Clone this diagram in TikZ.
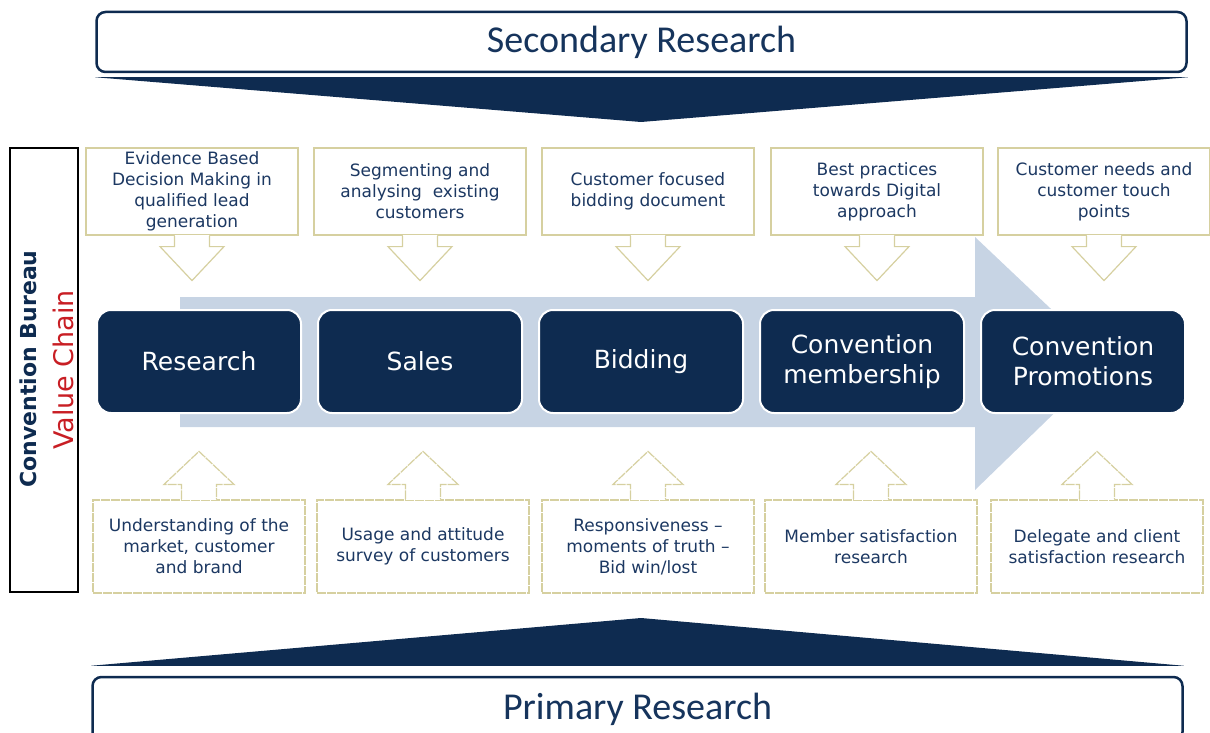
\documentclass[tikz,border=0pt]{standalone}
\usepackage{fontspec}
\setmainfont{DejaVu Sans}
\newfontfamily\bannerfont{Carlito}
\definecolor{navy}{RGB}{14,43,80}
\definecolor{bannertext}{RGB}{22,52,92}
\definecolor{boxtext}{RGB}{28,56,98}
\definecolor{boxline}{RGB}{214,208,160}
\definecolor{flow}{RGB}{199,212,228}
\definecolor{vcred}{RGB}{200,30,36}
\begin{document}
\begin{tikzpicture}[x=1pt,y=-1pt,
  banner/.style={draw=navy,line width=2.5pt,rounded corners=9pt,fill=white,minimum width=1090pt,minimum height=60pt,text=bannertext,font=\bannerfont\fontsize{38}{42}\selectfont},
  stage/.style={fill=navy,draw=white,line width=2pt,rounded corners=14pt,minimum width=204pt,minimum height=103pt,text=white,align=center,font=\fontsize{25}{30}\selectfont},
  inbox/.style={draw=boxline,line width=1.2pt,fill=white,minimum width=212pt,minimum height=87pt,inner sep=1pt,align=center,text=boxtext,font=\fontsize{17}{21}\selectfont},
  outbox/.style={inbox,minimum height=93pt,dash pattern=on 9pt off 1pt},
  blockarrow/.style={draw=boxline,line width=1.2pt,fill=white,line join=miter}]
\useasboundingbox (0,0) rectangle (1210,733);
% research banners
\node[banner] (sec) at (641.5,42) {Secondary Research};
\fill[navy] ([yshift=-4pt]sec.south west) -- ([yshift=-4pt]sec.south east) -- (641,122) -- cycle;
\node[banner,minimum height=64pt] (prim) at (637.5,709) {Primary Research};
\fill[navy] ([yshift=10pt]prim.north west) -- ([yshift=10pt]prim.north east) -- (641,618) -- cycle;
% value chain label
\node[draw=black,line width=2.5pt,minimum width=68pt,minimum height=444pt] (vc) at (44,370) {};
\node[rotate=90,text=navy,font=\bfseries\fontsize{22}{26}\selectfont] (cb) at (28,369) {Convention Bureau};
\node[rotate=90,text=vcred,font=\fontsize{27}{32}\selectfont] (vcn) at (63,370) {Value Chain};
% big flow arrow
\fill[flow] (180,297) -- (975,297) -- (975,237) -- (1107,362) -- (975,490) -- (975,427) -- (180,427) -- cycle;
% stages
\foreach \i/\txt in {1/Research,2/Sales,3/Bidding,4/{Convention\\membership},5/{Convention\\Promotions}}
\node[stage] (s\i) at (199+221*\i-221,361.5) {\txt};
% top inputs, edit here for the texts
\foreach \i/\x/\txt in {1/192/{Evidence Based\\Decision Making in\\qualified lead\\generation},
  2/420/{Segmenting and\\analysing~ existing\\customers},
  3/648/{Customer focused\\bidding document},
  4/877/{Best practices\\towards Digital\\approach},
  5/1104/{Customer needs and\\customer touch\\points}}
{
\node[inbox] (t\i) at (\x,191.5) {\txt};
\draw[blockarrow] ([xshift=-17.5pt]t\i.south) -- ++(0,11) -- ++(-14.5,0) -- ++(32,34) -- ++(32,-34) -- ++(-14.5,0) -- ++(0,-11);
\draw[white,line width=1.6pt] ([xshift=-16.9pt]t\i.south) -- ([xshift=16.9pt]t\i.south);
}
% bottom inputs
\foreach \i/\x/\txt in {1/199/{Understanding of the\\market, customer\\and brand},
  2/423/{Usage and attitude\\survey of customers},
  3/648/{Responsiveness --\\moments of truth --\\Bid win/lost},
  4/871/{Member satisfaction\\research},
  5/1097/{Delegate and client\\satisfaction research}}
{
\node[outbox] (b\i) at (\x,546.5) {\txt};
\draw[blockarrow,dash pattern=on 9pt off 1pt] ([xshift=-17.5pt]b\i.north) -- ++(0,-15) -- ++(-17.5,0) -- ++(35,-33) -- ++(35,33) -- ++(-17.5,0) -- ++(0,15);
\draw[white,line width=1.6pt] ([xshift=-16.9pt]b\i.north) -- ([xshift=16.9pt]b\i.north);
}
\end{tikzpicture}
\end{document}
